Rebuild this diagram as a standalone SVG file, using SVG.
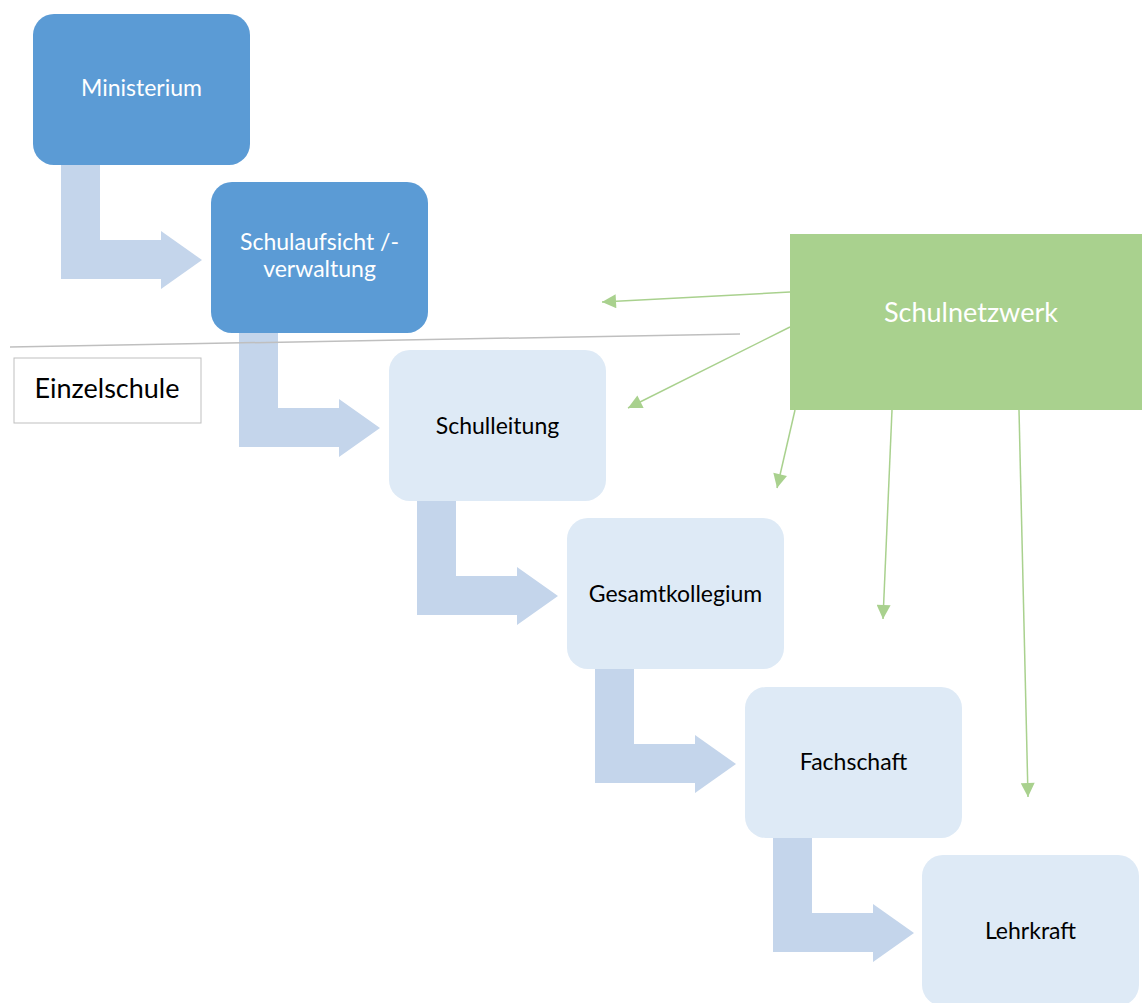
<svg xmlns="http://www.w3.org/2000/svg" width="1142" height="1003" viewBox="0 0 1142 1003">
  <defs>
    <style>
      .lvl-top { fill: #5B9BD5; }
      .lvl-school { fill: #DEEAF6; }
      .flow { fill: #C4D5EB; }
      .lbl { font-family: Lato, "Open Sans", "Liberation Sans", sans-serif; font-size: 23px; text-anchor: middle; }
      .lbl-big { font-size: 27px; }
      .lbl-light { fill: #FFFFFF; }
      .lbl-dark { fill: #000000; }
      .net { fill: #A9D18E; }
      .net-link { stroke: #A9D18E; stroke-width: 1.5; fill: none; marker-end: url(#netHead); }
    </style>
    <marker id="netHead" viewBox="0 0 10 10" refX="10" refY="5" markerWidth="15" markerHeight="14" markerUnits="userSpaceOnUse" orient="auto">
      <path d="M0,0 L10,5 L0,10 Z" fill="#A9D18E"/>
    </marker>
    <!-- bent arrow leading from the bottom of one level into the next -->
    <path id="bend" d="M28,140 H67 V226 H128 V217 L169,246 L128,275 V265 H28 Z"/>
  </defs>

  <!-- step arrows between the hierarchy levels -->
  <g id="connectors">
    <use href="#bend" class="flow" x="33" y="14"/>
    <use href="#bend" class="flow" x="211" y="182"/>
    <use href="#bend" class="flow" x="389" y="350"/>
    <use href="#bend" class="flow" x="567" y="518"/>
    <use href="#bend" class="flow" x="745" y="687"/>
  </g>

  <!-- divider between administration and the single school -->
  <line x1="10" y1="347" x2="740" y2="334" stroke="#BFBFBF" stroke-width="1.5"/>

  <g id="einzelschule">
    <rect x="14" y="358" width="187" height="65" fill="#FFFFFF" stroke="#BFBFBF" stroke-width="1"/>
    <text x="107" y="398" class="lbl lbl-big lbl-dark">Einzelschule</text>
  </g>

  <g id="ministerium">
    <rect x="33" y="14" width="217" height="151" rx="21" class="lvl-top"/>
    <text x="141.5" y="96" class="lbl lbl-light">Ministerium</text>
  </g>

  <g id="schulaufsicht">
    <rect x="211" y="182" width="217" height="151" rx="21" class="lvl-top"/>
    <text x="319.5" y="250" class="lbl lbl-light">Schulaufsicht /-</text>
    <text x="319.5" y="277" class="lbl lbl-light">verwaltung</text>
  </g>

  <g id="schulleitung">
    <rect x="389" y="350" width="217" height="151" rx="21" class="lvl-school"/>
    <text x="497.5" y="434" class="lbl lbl-dark">Schulleitung</text>
  </g>

  <g id="gesamtkollegium">
    <rect x="567" y="518" width="217" height="151" rx="21" class="lvl-school"/>
    <text x="675.5" y="602" class="lbl lbl-dark">Gesamtkollegium</text>
  </g>

  <g id="fachschaft">
    <rect x="745" y="687" width="217" height="151" rx="21" class="lvl-school"/>
    <text x="853.5" y="770" class="lbl lbl-dark">Fachschaft</text>
  </g>

  <g id="lehrkraft">
    <rect x="922" y="855" width="217" height="151" rx="21" class="lvl-school"/>
    <text x="1030.5" y="939" class="lbl lbl-dark">Lehrkraft</text>
  </g>

  <g id="schulnetzwerk">
    <rect x="790" y="234" width="360" height="176" class="net"/>
    <text x="971" y="322" class="lbl lbl-big lbl-light">Schulnetzwerk</text>
  </g>

  <!-- links from the school network to the levels -->
  <g id="network-links">
    <line x1="790" y1="292" x2="602" y2="302" class="net-link"/>
    <line x1="790" y1="327" x2="628" y2="408" class="net-link"/>
    <line x1="795" y1="410" x2="777" y2="488" class="net-link"/>
    <line x1="892" y1="410" x2="883" y2="619" class="net-link"/>
    <line x1="1019" y1="410" x2="1028" y2="797" class="net-link"/>
  </g>
</svg>
